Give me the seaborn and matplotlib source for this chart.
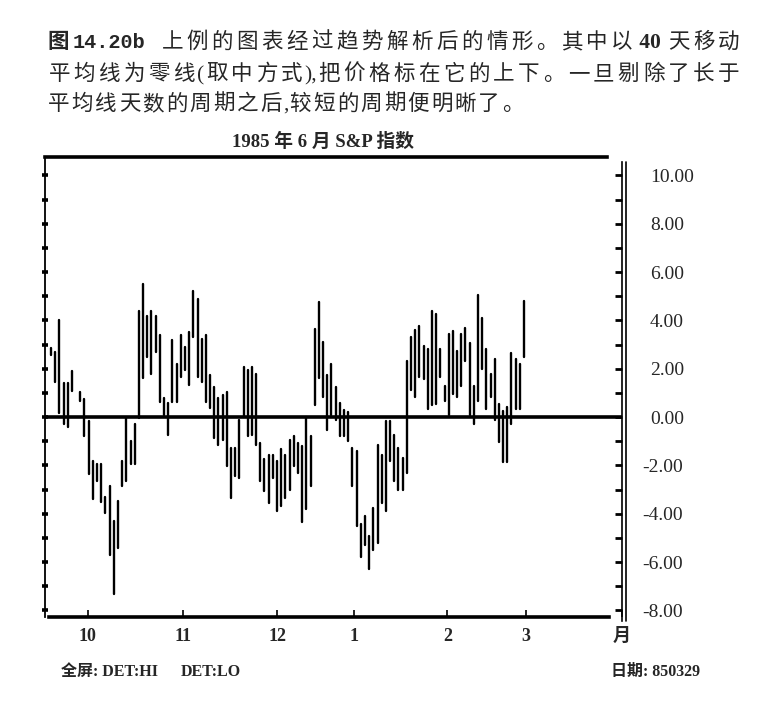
import re
import pandas as pd
import seaborn as sns
import matplotlib
matplotlib.use('Agg')
import matplotlib.pyplot as plt
import matplotlib.transforms as mtransforms
from matplotlib.ticker import MultipleLocator

# detrended daily high/low bars (S&P, 40-day average as zero line)
days = list(range(1, 115))
highs = [2.85, 2.7, 4.0, 1.4, 1.4, 1.9, None, 1.05, 0.74, -0.18,
         -1.8, -1.96, -1.96, -3.3, -2.85, -4.3, -3.47, -1.8, -0.04, -0.97,
         -0.3, 4.4, 5.5, 4.2, 4.4, 4.2, 3.4, 0.78, 0.58, 3.18,
         2.2, 3.4, 2.9, 3.5, 5.2, 4.9, 3.25, 3.4, 1.74, 1.26,
         0.78, 0.92, 1.05, -1.28, -1.28, -0.1, 2.08, 1.95, 2.08, 1.8,
         -1.07, -1.75, -1.55, -1.55, -1.82, -1.34, -1.55, -0.93, -0.8, -1.07,
         -1.2, 0.0, -0.8, 3.66, 4.75, 3.1, 1.74, 2.2, 1.26, 0.58,
         0.3, 0.23, -1.28, -1.4, -4.43, -4.1, -4.9, -3.75, -1.14, -1.55,
         -0.18, -0.18, -0.73, -1.28, -1.68, 2.3, 3.33, 3.6, 3.77, 2.95,
         2.8, 4.38, 4.25, 2.8, 1.3, 3.42, 3.56, 2.74, 3.42, 3.7,
         3.08, 1.3, 5.07, 4.1, 2.8, 1.78, 2.4, 0.55, 0.27, 0.4,
         2.67, 2.4, 2.2, 4.8]
lows = [2.55, 1.47, 0.16, -0.3, -0.4, 1.1, None, 0.65, -0.8, -2.37,
        -3.4, -2.65, -3.5, -3.95, -5.7, -7.3, -5.4, -2.85, -2.65, -1.96,
        -1.96, -0.05, 1.6, 2.5, 1.8, 2.7, 0.64, 0.1, -0.73, 0.64,
        0.64, 1.67, 1.95, 1.33, 3.3, 1.67, 1.47, 0.64, 0.37, -0.86,
        -1.14, -0.93, -2.03, -3.33, -2.44, -2.5, 0.0, -0.8, -0.73, -1.14,
        -2.65, -3.06, -3.54, -2.5, -3.88, -3.67, -3.33, -3.0, -2.03, -2.3,
        -4.36, -3.8, -2.85, 0.5, 1.6, 0.85, -0.52, 0.1, -0.1, -0.8,
        -0.8, -1.0, -2.85, -4.5, -5.8, -5.3, -6.3, -5.5, -5.2, -3.54,
        -3.88, -1.82, -2.65, -3.0, -3.0, -2.3, 1.12, 0.85, 1.64, 1.58,
        0.34, 0.48, 0.55, 1.64, 0.68, 0.07, 0.96, 0.82, 1.3, 2.33,
        0.07, -0.27, 0.68, 2.0, 0.34, 0.82, -0.14, -1.03, -1.85, -1.85,
        -0.27, 0.34, 0.34, 2.47]

month_pos = [9.8, 32.5, 55.0, 73.4, 95.7, 114.4, 137.4]
month_labels = ['10', '11', '12', '1', '2', '3', '月']
right_ticks = [10, 8, 6, 4, 2, 0, -2, -4, -6, -8]
right_labels = ['10.00', '8.00', '6.00', '4.00', '2.00', '0.00',
                '-2.00', '-4.00', '-6.00', '-8.00']

fig_label = '图'
fig_number = '14.20b'
caption_1 = '上例的图表经过趋势解析后的情形。其中以 40 天移动'
caption_2 = '平均线为零线(取中方式),把价格标在它的上下。一旦剔除了长于'
caption_3 = '平均线天数的周期之后,较短的周期便明晰了。'
title = '1985 年 6 月 S&P 指数'
footer_left = '全屏: DET:HI'
footer_mid = 'DET:LO'
footer_right = '日期: 850329'

W, H = 767, 701
SERIF_CJK = ['Liberation Serif', 'Noto Sans CJK SC']
CJK_RE = '[\u2e80-\u9fff\u3000-\u303f\uff00-\uffef]'


def fpos(x, y):
    return x / W, 1 - y / H


def caption_line(fig, text, x0, base, x1=None, pitch=23.5, size=15.5):
    runs = re.findall(CJK_RE + '|(?:(?!' + CJK_RE + ').)+', text)
    renderer = fig.canvas.get_renderer()
    items = []
    ascii_w = 0
    for run in runs:
        if re.fullmatch(CJK_RE, run):
            items.append((run, None, None))
        else:
            bold = any(c.isdigit() for c in run)
            t = fig.text(0, 0, run, fontsize=size, family=['Liberation Serif'],
                         weight='bold' if bold else 'normal', va='baseline', ha='left')
            w = t.get_window_extent(renderer).width
            ascii_w += w
            items.append((run, t, w))
    n_cjk = sum(1 for it in items if it[1] is None)
    if x1 is not None:
        pitch = (x1 - x0 - ascii_w) / n_cjk
    x = x0
    for run, t, w in items:
        if t is None:
            fig.text(*fpos(x + pitch / 2, base), run, fontsize=size, weight='medium',
                     family=['Noto Sans CJK SC'], ha='center', va='baseline')
            x += pitch
        else:
            t.set_position(fpos(x, base))
            x += w


sns.set_theme(style='white')
plt.rcParams['font.family'] = SERIF_CJK
plt.rcParams['axes.unicode_minus'] = False

fig = plt.figure(figsize=(W / 100, H / 100), dpi=100)
ax = fig.add_axes([45 / W, 1 - 617 / H, 577 / W, 460 / H])

df = pd.DataFrame({'day': days * 2, 'value': highs + lows}).dropna()
sns.lineplot(data=df, x='day', y='value', units='day', estimator=None,
             color='black', linewidth=1.7, ax=ax, legend=False, sort=False)

ax.set_xlim(-0.43, 137.4)
ax.set_ylim(-8.27, 10.76)
ax.set_xlabel('')
ax.set_ylabel('')
ax.axhline(0, color='black', lw=2.6)

# frame pieces
for side in ['left', 'top', 'bottom', 'right']:
    ax.spines[side].set_color('black')
ax.spines['right'].set_visible(False)
ax.spines['left'].set_linewidth(1.3)
ax.spines['top'].set_linewidth(2.6)
ax.spines['top'].set_bounds(-0.43, 133.8)
ax.spines['bottom'].set_linewidth(2.6)
ax.spines['bottom'].set_bounds(0.5, 134.3)

ax.yaxis.set_major_locator(MultipleLocator(1))
ax.tick_params(axis='y', left=True, right=False, direction='inout', length=4,
               width=2.6, color='black', labelleft=False)
ax.set_xticks(month_pos)
ax.set_xticklabels(month_labels, fontsize=13, fontweight='bold')
ax.tick_params(axis='x', bottom=True, direction='in', length=5, width=1.2,
               color='black', pad=8)

ax2 = ax.twinx()
ax2.set_ylim(ax.get_ylim())
for side in ['left', 'top', 'bottom']:
    ax2.spines[side].set_visible(False)
ax2.spines['right'].set_color('black')
ax2.spines['right'].set_linewidth(1.2)
ax2.spines['right'].set_bounds(-8.45, 10.55)
ax2.set_yticks(right_ticks)
ax2.set_yticklabels(right_labels)
ax2.yaxis.set_minor_locator(MultipleLocator(1))
ax2.tick_params(axis='y', which='both', right=True, direction='in', length=5,
                width=2.0, color='black', labelsize=14, pad=20)
ax2.grid(False)
ax.grid(False)
double = mtransforms.blended_transform_factory(ax.transAxes, ax.transData) + \
    mtransforms.ScaledTranslation(4 / 100, 0, fig.dpi_scale_trans)
ax2.plot([1, 1], [-8.45, 10.55], color='black', lw=1.2, transform=double, clip_on=False)

# negative labels hang their minus sign left of the digit column
fig.canvas.draw()
shift = mtransforms.ScaledTranslation(-8 / 100, 0, fig.dpi_scale_trans)
for lab in ax2.get_yticklabels():
    if lab.get_text().startswith('-'):
        lab.set_transform(lab.get_transform() + shift)

# texts
fig.text(*fpos(47, 48), fig_label, fontsize=15.5, weight='bold',
         family=['Noto Sans CJK SC'], va='baseline', ha='left')
fig.text(*fpos(73, 48), fig_number, fontsize=14.5, weight='bold',
         family=['Liberation Mono'], va='baseline', ha='left')
caption_line(fig, caption_1, 160, 48, x1=741)
caption_line(fig, caption_2, 47, 80, x1=741)
caption_line(fig, caption_3, 47, 110, pitch=23.6)

fig.text(*fpos(323, 142), title, fontsize=13.5, weight='bold', ha='center', va='center')
fig.text(*fpos(61, 672), footer_left, fontsize=11.5, weight='bold', ha='left', va='center')
fig.text(*fpos(181, 672), footer_mid, fontsize=11.5, weight='bold', ha='left', va='center')
fig.text(*fpos(611, 672), footer_right, fontsize=11.5, weight='bold', ha='left', va='center')

fig.savefig('out.png', dpi=100, facecolor='white')
